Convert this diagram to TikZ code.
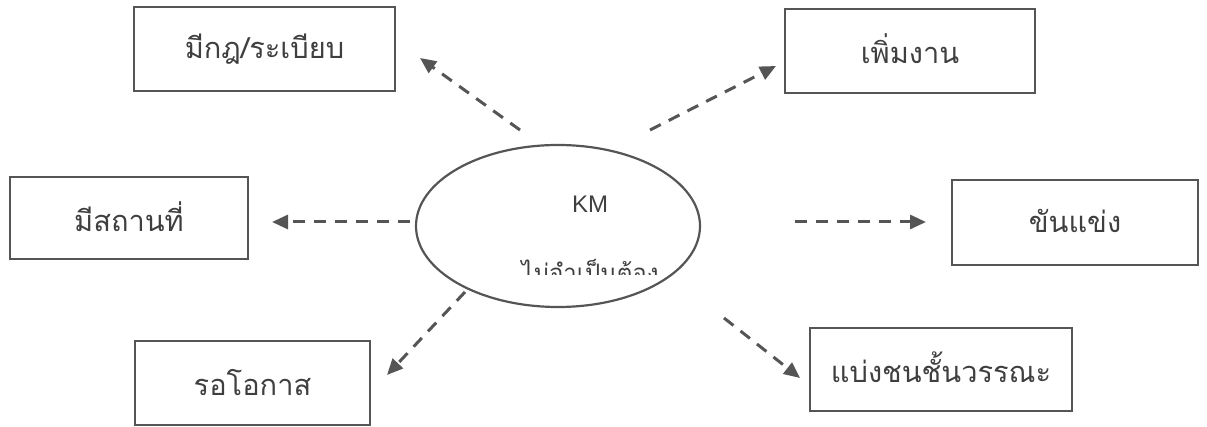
\documentclass[tikz,border=0pt]{standalone}
\usepackage{fontspec}
\usetikzlibrary{arrows.meta,shapes.geometric}
\newfontfamily\thaifont[Script=Thai]{Loma}
\newfontfamily\latinsans{Liberation Sans}
\definecolor{ink}{HTML}{555555}
\definecolor{txt}{HTML}{3F3F3F}
\begin{document}
\begin{tikzpicture}[x=1pt,y=-1pt,
  box/.style={draw=ink,line width=2.6pt,rectangle,inner sep=0pt,
    font=\thaifont\fontsize{29}{32}\selectfont,text=txt},
  hub/.style={draw=ink,line width=2.2pt,ellipse,inner sep=0pt,
    minimum width=284pt,minimum height=162pt},
  conn/.style={draw=ink,line width=3pt,dash pattern=on 12pt off 9pt,
    -{Triangle[length=16pt,width=14pt]}}]
\useasboundingbox (0,0) rectangle (1207,427);
% central ellipse
\node[hub] (km) at (558,226) {};
\node[font=\latinsans\fontsize{24}{28}\selectfont,text=txt] (kmt) at (590,204) {KM};
\begin{scope}
  \clip (420,150) rectangle (700,274.5);
  \node[font=\thaifont\fontsize{24}{28}\selectfont,text=txt,anchor=north] (kms) at (590,256) {ไม่จำเป็นต้อง};
\end{scope}
% surrounding boxes
\node[box,minimum width=261pt,minimum height=84pt] (b1) at (264.5,49) {\raisebox{4pt}{มีกฎ/ระเบียบ}};
\node[box,minimum width=250pt,minimum height=84pt] (b2) at (910,51) {\raisebox{4pt}{เพิ่มงาน}};
\node[box,minimum width=238pt,minimum height=82pt] (b3) at (129,218) {\raisebox{2pt}{มีสถานที่}};
\node[box,minimum width=246pt,minimum height=85pt] (b4) at (1075,222.5) {\raisebox{4pt}{ขันแข่ง}};
\node[box,minimum width=235pt,minimum height=84pt] (b5) at (252.5,383) {\raisebox{2pt}{รอโอกาส}};
\node[box,minimum width=262pt,minimum height=83pt] (b6) at (941,369.5) {\raisebox{4pt}{แบ่งชนชั้นวรรณะ}};
% connector ends
\coordinate (s1) at (520,130); \coordinate (t1) at (420,58);
\coordinate (s2) at (650,130); \coordinate (t2) at (776,66);
\coordinate (s3) at (410,222); \coordinate (t3) at (272,222);
\coordinate (s4) at (795,222); \coordinate (t4) at (926,222);
\coordinate (s5) at (465,292); \coordinate (t5) at (387,375);
\coordinate (s6) at (724,318); \coordinate (t6) at (800,378);
\draw[conn] (s1) -- (t1);
\draw[conn] (s2) -- (t2);
\draw[conn] (s3) -- (t3);
\draw[conn] (s4) -- (t4);
\draw[conn] (s5) -- (t5);
\draw[conn] (s6) -- (t6);
\end{tikzpicture}
\end{document}
